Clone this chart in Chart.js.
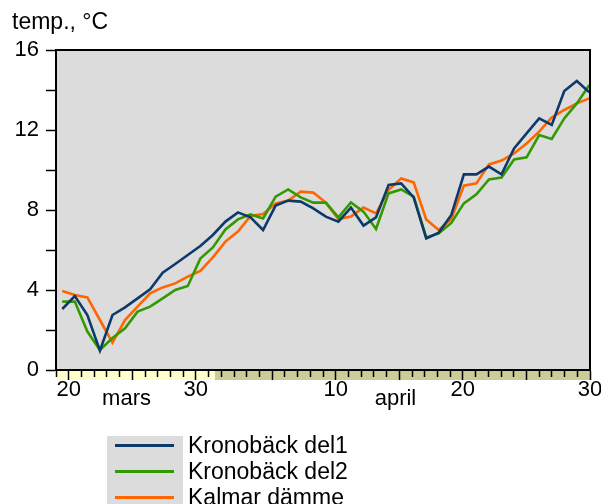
<!DOCTYPE html>
<html>
<head>
<meta charset="utf-8">
<script src="https://cdn.jsdelivr.net/npm/chart.js@4/dist/chart.umd.min.js"></script>
<style>
  html, body { margin: 0; padding: 0; background: #fff; }
  #wrap { position: relative; width: 601px; height: 504px; overflow: hidden;
          font-family: "Liberation Sans", Arial, Helvetica, sans-serif; }
  #chart { position: absolute; left: 0; top: 0; }
  #legendBox { position: absolute; left: 107px; top: 436px; width: 76px; height: 80px; background: #dcdcdc; }
  .lg-row { position: absolute; left: 115px; height: 26px; display: flex; align-items: center;
            white-space: nowrap; font-size: 23px; line-height: 26px; color: #000; }
  .lg-line { width: 59px; height: 3px; margin-right: 14px; }
</style>
</head>
<body>
<div id="wrap">
  <canvas id="chart" width="601" height="504"></canvas>
  <div id="legendBox"></div>
  <div id="legend"></div>
</div>
<script>
// Daily temperatures, 19 mars – 30 april
const dates = [
  '19 mars', '20 mars', '21 mars', '22 mars', '23 mars', '24 mars', '25 mars', '26 mars',
  '27 mars', '28 mars', '29 mars', '30 mars', '31 mars',
  '1 april', '2 april', '3 april', '4 april', '5 april', '6 april', '7 april', '8 april',
  '9 april', '10 april', '11 april', '12 april', '13 april', '14 april', '15 april',
  '16 april', '17 april', '18 april', '19 april', '20 april', '21 april', '22 april',
  '23 april', '24 april', '25 april', '26 april', '27 april', '28 april', '29 april', '30 april'
];

const seriesNames = ['Kronobäck del1', 'Kronobäck del2', 'Kalmar dämme'];

const kronobackDel1 = [
  3.05, 3.70, 2.75, 0.97, 2.75, 3.13, 3.58, 4.03, 4.87, 5.30,
  5.75, 6.20, 6.75, 7.42, 7.88, 7.63, 7.00, 8.22, 8.47, 8.42,
  8.08, 7.67, 7.42, 8.12, 7.22, 7.63, 9.25, 9.33, 8.63, 6.58,
  6.87, 7.75, 9.78, 9.78, 10.17, 9.78, 11.08, 11.83, 12.58, 12.25,
  13.95, 14.45, 13.88
];

const kronobackDel2 = [
  3.42, 3.42, 1.92, 1.00, 1.60, 2.08, 2.92, 3.17, 3.58, 4.00,
  4.20, 5.57, 6.13, 7.03, 7.53, 7.78, 7.58, 8.67, 9.03, 8.63,
  8.37, 8.37, 7.63, 8.38, 7.92, 7.05, 8.83, 9.03, 8.67, 6.63,
  6.83, 7.35, 8.33, 8.78, 9.53, 9.62, 10.53, 10.63, 11.75, 11.55,
  12.58, 13.33, 14.25
];

const kalmarDamme = [
  3.95, 3.75, 3.63, 2.50, 1.37, 2.50, 3.17, 3.83, 4.13, 4.33,
  4.67, 4.95, 5.63, 6.42, 6.92, 7.70, 7.80, 8.33, 8.47, 8.92,
  8.87, 8.37, 7.55, 7.67, 8.12, 7.83, 9.00, 9.58, 9.38, 7.53,
  7.00, 7.55, 9.22, 9.33, 10.28, 10.47, 10.83, 11.33, 11.92, 12.63,
  13.00, 13.33, 13.58
];

const monthNames = ['mars', 'april'];
const yTickLabels = ['0', '4', '8', '12', '16'];

// ---- styling ----
const FONT = '"Liberation Sans", Arial, Helvetica, sans-serif';
const COLORS = ['#0d3a6b', '#339900', '#ff6600'];
const PLOT_BG = '#dcdcdc';
const STRIP_MARS = '#ffffcc';
const STRIP_APRIL = '#cccc99';
const STRIP_H = 10;

const dayOfMonth = i => parseInt(dates[i], 10);
const marsDays = dates.filter(d => d.endsWith('mars')).length;
// month names sit roughly under the middle of each month's stretch
const monthLabelPos = [5.55, 26.7];
const isMonthTick = v => monthLabelPos.includes(v);

const allValues = [kronobackDel1, kronobackDel2, kalmarDamme];

// background, calendar strip and frame around the plot
const framePlugin = {
  id: 'frame',
  beforeDraw(chart) {
    const { ctx, chartArea: a, scales } = chart;
    ctx.save();
    ctx.fillStyle = PLOT_BG;
    ctx.fillRect(a.left, a.top, a.right - a.left, a.bottom - a.top);
    const split = scales.x.getPixelForValue(marsDays - 0.5);
    ctx.fillStyle = STRIP_MARS;
    ctx.fillRect(a.left, a.bottom, split - a.left, STRIP_H);
    ctx.fillStyle = STRIP_APRIL;
    ctx.fillRect(split, a.bottom, a.right - split, STRIP_H);
    ctx.restore();
  },
  afterDatasetsDraw(chart) {
    const { ctx, chartArea: a } = chart;
    ctx.save();
    ctx.strokeStyle = '#000';
    ctx.lineWidth = 2;
    ctx.strokeRect(a.left, a.top, a.right - a.left, a.bottom - a.top);
    ctx.restore();
  }
};

const chart = new Chart(document.getElementById('chart'), {
  type: 'line',
  data: {
    datasets: seriesNames.map((name, k) => ({
      label: name,
      data: allValues[k].map((v, i) => ({ x: i, y: v })),
      borderColor: COLORS[k],
      backgroundColor: COLORS[k],
      borderWidth: 2.6,
      pointRadius: 0,
      tension: 0,
      fill: false,
      xAxisID: 'xd',
      yAxisID: 'y'
    }))
  },
  options: {
    responsive: false,
    animation: false,
    devicePixelRatio: 1,
    layout: { padding: { left: 12, right: 11, top: 0, bottom: 0 } },
    plugins: {
      legend: { display: false },
      tooltip: { enabled: false },
      title: {
        display: true,
        text: 'temp., °C',
        align: 'start',
        color: '#000',
        font: { family: FONT, size: 23, weight: 'normal', lineHeight: 1.2 },
        padding: { top: 9, bottom: 13.4 }
      }
    },
    scales: {
      // the measured days, slightly inset from the calendar strip
      xd: { type: 'linear', display: false, min: -0.5, max: 42.05 },
      // calendar strip: day ticks, day numbers and month names
      x: {
        type: 'linear', position: 'bottom',
        min: 0, max: dates.length - 1,
        afterBuildTicks: s => {
          const vals = dates.map((d, i) => i).concat(monthLabelPos).sort((a, b) => a - b);
          s.ticks = vals.map(v => ({ value: v }));
        },
        afterFit: s => { s.height = 134; s.paddingLeft = 0; s.paddingRight = 0; },
        ticks: {
          autoSkip: false, maxRotation: 0, minRotation: 0, padding: 0, color: '#000',
          font: ctx => (ctx.tick && isMonthTick(ctx.tick.value))
            ? { family: FONT, size: 22, lineHeight: 1.73 }
            : { family: FONT, size: 22, lineHeight: 0.9 },
          callback: (v) => {
            if (isMonthTick(v)) return monthNames[monthLabelPos.indexOf(v)];
            return dayOfMonth(v) % 10 === 0 ? String(dayOfMonth(v)) : '';
          }
        },
        grid: {
          drawOnChartArea: false, drawTicks: true, tickLength: 10,
          tickColor: ctx => (ctx.tick && isMonthTick(ctx.tick.value)) ? 'rgba(0,0,0,0)' : '#000',
          tickWidth: 1.5,
          tickBorderDash: ctx => (ctx.tick && dayOfMonth(ctx.tick.value) % 5 === 0) ? [] : [6, 40]
        },
        border: { display: true, color: '#000', width: 2 }
      },
      y: {
        type: 'linear', position: 'left',
        min: 0, max: 16,
        afterFit: s => { s.width = 44; },
        ticks: {
          stepSize: 2, padding: 7, color: '#000',
          font: { family: FONT, size: 22 },
          callback: v => (yTickLabels.includes(String(v)) ? String(v) : '')
        },
        grid: { drawOnChartArea: false, tickLength: 10, tickColor: '#000', tickWidth: 1.5 },
        border: { display: true, color: '#000', width: 2 }
      }
    }
  },
  plugins: [framePlugin]
});

// legend built from the chart's datasets
const legend = document.getElementById('legend');
chart.data.datasets.forEach((ds, k) => {
  const row = document.createElement('div');
  row.className = 'lg-row';
  row.style.top = (432 + k * 26) + 'px';
  const line = document.createElement('div');
  line.className = 'lg-line';
  line.style.background = ds.borderColor;
  const txt = document.createElement('span');
  txt.textContent = ds.label;
  row.appendChild(line);
  row.appendChild(txt);
  legend.appendChild(row);
});
</script>
</body>
</html>
